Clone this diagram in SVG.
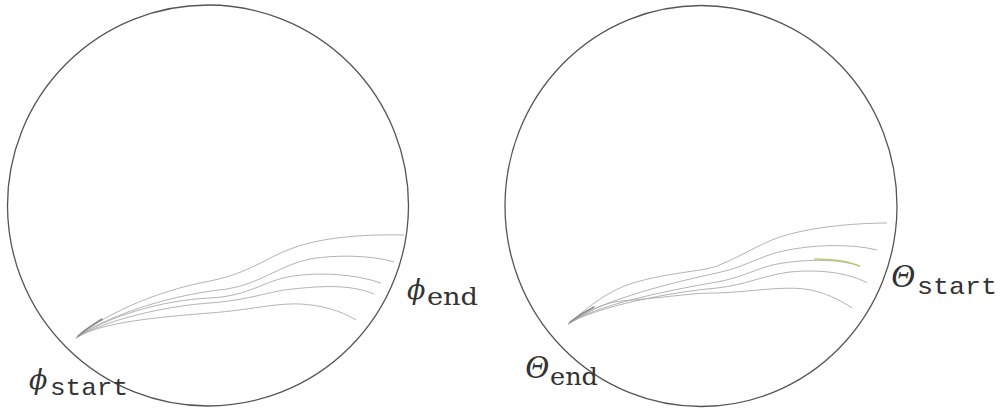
<svg xmlns="http://www.w3.org/2000/svg" width="1003" height="414" viewBox="0 0 1003 414">
<style>
.circ{fill:none;stroke:#555;stroke-width:1.3}
.cur{fill:none;stroke:#aaa;stroke-width:0.9}
.streak{fill:none;stroke:#888;stroke-width:1.5;stroke-linecap:round}
.sym{font-family:"DejaVu Serif",serif;font-style:italic;font-size:27px;fill:#333}
.theta{font-family:"Liberation Serif",serif;font-style:italic;font-size:33px;fill:#333}
.mono{font-family:"Liberation Mono",monospace;font-size:24px;fill:#333}
.rom{font-family:"DejaVu Serif","Liberation Serif",serif;font-size:24px;fill:#333}
</style>
<g id="left-panel">
  <circle class="circ" cx="208" cy="205.5" r="200.5"/>
  <g id="left-curves">
    <path class="cur" d="M76,338 C100,318 150,292 210,281 C250,273 265,258 293,248 C320,238 360,234 404,235"/>
    <path class="cur" d="M76,338 C100,320 160,296 227,289 C260,284 280,265 310,259 C340,254 375,256 394,262"/>
    <path class="cur" d="M76,338 C105,318 160,300 210,298 C250,296 265,280 293,276 C320,272 355,274 381,283"/>
    <path class="cur" d="M76,338 C105,320 165,306 210,303 C250,300 270,291 293,289 C320,286 350,284 374,294"/>
    <path class="cur" d="M76,338 C100,322 160,317 210,313 C250,310 275,303 300,304 C320,305 340,310 356,320"/>
    <path class="streak" d="M78,336 C86,329 94,324 102,319"/>
  </g>
  <g id="label-phi-start">
    <text class="sym" x="29" y="389">ϕ</text>
    <text class="mono" x="50" y="395" textLength="78" lengthAdjust="spacingAndGlyphs">start</text>
  </g>
  <g id="label-phi-end">
    <text class="sym" x="407" y="299">ϕ</text>
    <text class="rom" x="427" y="305" textLength="51" lengthAdjust="spacingAndGlyphs">end</text>
  </g>
</g>
<g id="right-panel">
  <ellipse class="circ" cx="701" cy="206" rx="196" ry="200.5"/>
  <g id="right-curves">
    <path class="cur" d="M568,324 C590,305 610,290 633,283 C670,272 700,272 717,266 C745,255 765,240 790,234 C820,226 860,223 887,223"/>
    <path class="cur" d="M568,324 C595,303 660,285 717,273 C745,267 760,256 783,251 C810,245 850,243 877,250"/>
    <path class="cur" d="M568,324 C595,305 670,290 717,282 C745,277 760,266 783,263 C810,259 840,259 860,266"/>
    <path class="cur" d="M568,324 C595,307 670,292 717,288 C745,285 765,275 790,272 C820,269 850,273 867,283"/>
    <path class="cur" d="M568,324 C595,309 600,302 633,300 C670,297 690,293 717,293 C750,292 780,286 805,289 C825,292 840,300 852,308"/>
    <path class="streak" d="M570,322 C578,316 586,311 594,307"/>
    <path fill="none" stroke="#b3c864" stroke-width="1.7" stroke-opacity="0.85" stroke-linecap="round" d="M815,259 C832,259 848,261 859,266"/>
  </g>
  <g id="label-theta-start">
    <text class="theta" x="891" y="287">Θ</text>
    <text class="mono" x="917" y="294" textLength="80" lengthAdjust="spacingAndGlyphs">start</text>
  </g>
  <g id="label-theta-end">
    <text class="theta" x="525" y="378">Θ</text>
    <text class="rom" x="550" y="385" textLength="48" lengthAdjust="spacingAndGlyphs">end</text>
  </g>
</g>
</svg>
